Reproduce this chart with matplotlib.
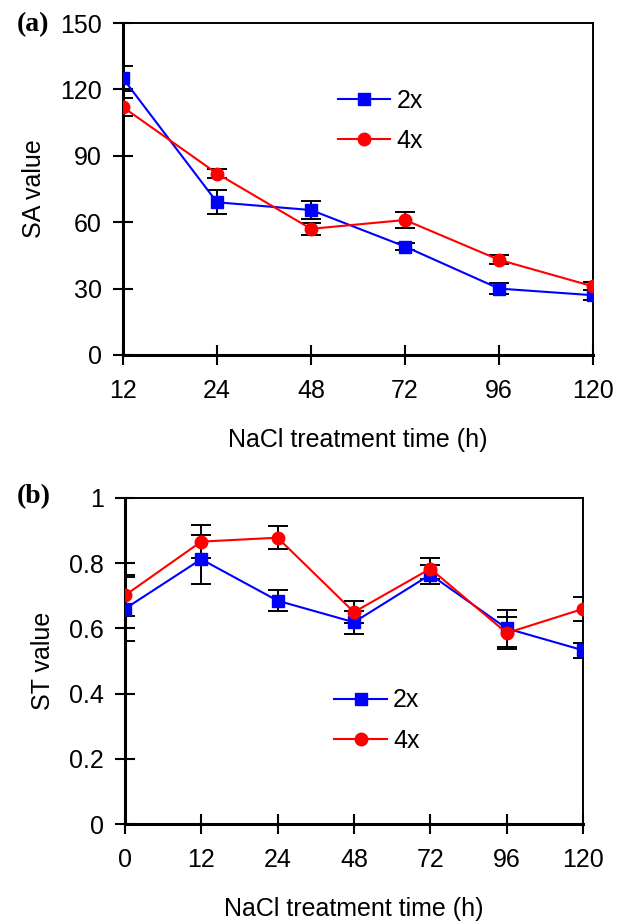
import matplotlib
matplotlib.use("Agg")
import matplotlib.pyplot as plt

plt.rcParams['font.family'] = ['Liberation Sans', 'DejaVu Sans']

# panel (a): SA value
sa_times = ["12", "24", "48", "72", "96", "120"]
sa_2x = [125, 69, 65.5, 49, 30, 27]
sa_2x_err = [5.5, 5.5, 4.2, 1.6, 2.6, 2.3]
sa_4x = [112, 82, 57, 61, 43, 31]
sa_4x_err = [4, 2, 2.7, 3.5, 2, 1.8]

# panel (b): ST value
st_times = ["0", "12", "24", "48", "72", "96", "120"]
st_2x = [0.66, 0.812, 0.685, 0.619, 0.765, 0.600, 0.533]
st_2x_err = [0.097, 0.075, 0.033, 0.035, 0.03, 0.058, 0.023]
st_4x = [0.701, 0.866, 0.878, 0.650, 0.783, 0.586, 0.660]
st_4x_err = [0.062, 0.05, 0.036, 0.033, 0.032, 0.048, 0.037]

fig = plt.figure(figsize=(6.21, 9.22), dpi=100)
ax1 = fig.add_axes([0.198, 0.615, 0.757, 0.360])
ax2 = fig.add_axes([0.201, 0.106, 0.738, 0.354])


def draw(ax, cats, y2, e2, y4, e4, ylim, yticks, yticklabels, ylabel, legend_pos):
    x = list(range(len(cats)))
    ax.errorbar(x, y2, yerr=e2, fmt='none', ecolor='black', elinewidth=1.4,
                capsize=7, capthick=1.4, zorder=2)
    ax.errorbar(x, y4, yerr=e4, fmt='none', ecolor='black', elinewidth=1.4,
                capsize=7, capthick=1.4, zorder=2)
    ax.plot(x, y2, color='#0000ff', marker='s', markersize=9, lw=1.5, label='2x', zorder=3)
    ax.plot(x, y4, color='#ff0000', marker='o', markersize=9, lw=1.5, label='4x', zorder=3)
    ax.set_xlim(0, len(cats) - 1)
    ax.set_ylim(*ylim)
    ax.set_xticks(x)
    ax.set_xticklabels(cats)
    ax.set_yticks(yticks)
    ax.set_yticklabels(yticklabels)
    ax.tick_params(axis='both', direction='inout', length=14, width=1.5,
                   labelsize=18, pad=8)
    ax.tick_params(axis='x', pad=10)
    for side in ['left', 'bottom']:
        ax.spines[side].set_linewidth(2.2)
    for side in ['top', 'right']:
        ax.spines[side].set_linewidth(1.4)
    ax.set_xlabel("NaCl treatment time (h)", fontsize=18, labelpad=18)
    ax.set_ylabel(ylabel, fontsize=18, labelpad=10)
    ax.legend(loc='upper left', bbox_to_anchor=legend_pos, frameon=False,
              fontsize=18, handlelength=2.1, handletextpad=0.25,
              labelspacing=0.65, borderpad=0)


draw(ax1, sa_times, sa_2x, sa_2x_err, sa_4x, sa_4x_err, (0, 150),
     [0, 30, 60, 90, 120, 150], ["0", "30", "60", "90", "120", "150"],
     "SA value", (0.43, 0.84))
draw(ax2, st_times, st_2x, st_2x_err, st_4x, st_4x_err, (0, 1),
     [0, 0.2, 0.4, 0.6, 0.8, 1.0], ["0", "0.2", "0.4", "0.6", "0.8", "1"],
     "ST value", (0.43, 0.455))

fig.text(0.027, 0.973, "(a)", fontsize=20, fontweight='bold',
         family='Liberation Serif', va='center')
fig.text(0.027, 0.461, "(b)", fontsize=20, fontweight='bold',
         family='Liberation Serif', va='center')

fig.savefig("out.png", dpi=100)
